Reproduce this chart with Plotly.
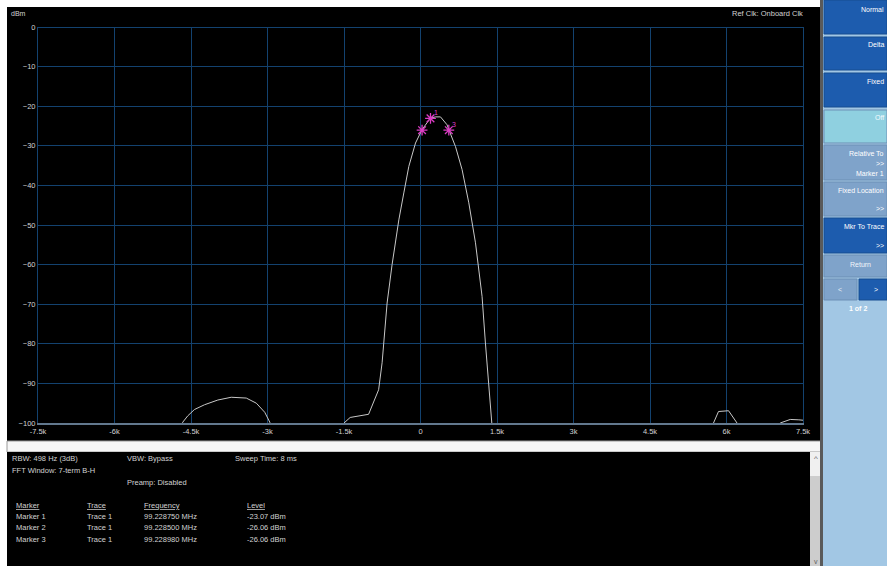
import plotly.graph_objects as go

# ---------------- data ----------------
freq_hz = [-7500, -4750, -4662, -4564, -4433, -4236, -3974, -3711, -3416, -3219, -3054, -2955,
           -2880, -1580, -1500, -1379, -1018, -821, -753, -655, -557, -425, -327, -229, -98,
           31, 196, 294, 392, 521, 555, 686, 815, 947, 1078, 1207, 1273, 1338, 1398, 1470,
           5680, 5745, 5843, 6040, 6206, 6280, 6990, 7053, 7250, 7419, 7500]
level_dbm = [-104, -104, -99.8, -98.2, -96.6, -95.4, -94.2, -93.5, -93.7, -95.0, -97.3, -99.8,
             -104, -104, -100, -98.6, -97.8, -91.6, -84.8, -69.7, -60.0, -48.7, -41.9, -35.2, -29.3,
             -25.9, -23.0, -22.7, -22.7, -24.7, -25.9, -30.2, -36.0, -44.4, -54.5, -68.0, -79.8, -90.8, -100, -104,
             -104, -100, -97.1, -96.9, -100, -104, -104, -100, -99.1, -99.2, -99.3]

x_tick_vals = [-7500, -6000, -4500, -3000, -1500, 0, 1500, 3000, 4500, 6000, 7500]
x_tick_text = ["-7.5k", "-6k", "-4.5k", "-3k", "-1.5k", "0", "1.5k", "3k", "4.5k", "6k", "7.5k"]
y_tick_vals = [0, -10, -20, -30, -40, -50, -60, -70, -80, -90, -100]

marker_names = ["Marker 1", "Marker 2", "Marker 3"]
marker_labels = ["1", "", "3"]
marker_offset_hz = [196, 31, 555]
marker_level_dbm = [-23.07, -26.06, -26.06]
marker_trace = ["Trace 1", "Trace 1", "Trace 1"]
marker_freq_text = ["99.228750 MHz", "99.228500 MHz", "99.228980 MHz"]
marker_level_text = ["-23.07 dBm", "-26.06 dBm", "-26.06 dBm"]

# ---------------- layout helpers ----------------
W, H = 887, 566
ML, MR, MT, MB = 38, 84, 27, 143
PW = W - ML - MR
PH = H - MT - MB


def X(px):
    return (px - ML) / PW


def Y(py):
    return (H - MB - py) / PH


FONT = "Liberation Sans, Arial, sans-serif"
TXT = "#d2d2d2"
GRID = "#13426f"
MAG = "#dc3cc4"

fig = go.Figure()

fig.add_trace(go.Scatter(
    x=freq_hz, y=level_dbm, mode="lines",
    line=dict(color="#c8c8c8", width=1), hoverinfo="skip", showlegend=False))

fig.add_trace(go.Scatter(
    x=marker_offset_hz, y=marker_level_dbm, mode="markers",
    marker=dict(symbol="asterisk-open", size=9, color=MAG,
                line=dict(color=MAG, width=1.3)),
    hoverinfo="skip", showlegend=False))

shapes = []
annotations = []

for fx, lv, lab in zip(marker_offset_hz, marker_level_dbm, marker_labels):
    if lab:
        annotations.append(dict(x=fx, y=lv, xref="x", yref="y", text=lab, showarrow=False,
                                xshift=5, yshift=6,
                                font=dict(family=FONT, size=7, color=MAG)))


def rect(px0, py0, px1, py1, fill, line=None, lw=0, layer="below"):
    shapes.append(dict(type="rect", xref="paper", yref="paper",
                       x0=X(px0), x1=X(px1), y0=Y(py1), y1=Y(py0),
                       fillcolor=fill, layer=layer,
                       line=dict(color=line or fill, width=lw)))


def text(px, py, s, size=7.5, color=TXT, anchor="left"):
    annotations.append(dict(xref="paper", yref="paper", x=X(px), y=Y(py),
                            text=s, showarrow=False, xanchor=anchor, yanchor="middle",
                            font=dict(family=FONT, size=size, color=color)))


# main black screen
rect(7, 7, 822, 441, "#000000")
# separator bar
rect(7, 441, 821, 452, "#f7f7f7", "#9a9a9a", 1, "above")
# info panel
rect(7, 452, 810, 566, "#000000", layer="above")
# scrollbar
rect(810, 452, 821, 566, "#cdcdcd", layer="above")
rect(810, 452, 821, 476, "#f0f0f0", layer="above")
text(815.5, 459, "^", 8, "#606060", "center")
text(815.5, 561, "v", 7, "#606060", "center")

# right soft-key panel
rect(820, 0, 887, 566, "#a2c7e4", layer="above")
rect(820, 0, 823, 566, "#5a5a5a", layer="above")
RX = 886
buttons = [
    (0, 34, "#1d5cae", [("Normal", 9)]),
    (37, 70, "#1d5cae", [("Delta", 45)]),
    (73, 107, "#1d5cae", [("Fixed", 82)]),
    (110, 143, "#8fd0e0", [("Off", 117)]),
    (145, 180, "#7fa3ca", [("Relative To", 153), (">>", 163), ("Marker 1", 173)]),
    (182, 216, "#7fa3ca", [("Fixed Location", 190), (">>", 209)]),
    (218, 253, "#1d5cae", [("Mkr To Trace", 226), (">>", 245)]),
]
for y0, y1, col, labels in buttons:
    rect(824, y0, 887, y1, col, "#164c90" if col == "#1d5cae" else "#6d8fb5", 1, "above")
    for s, py in labels:
        text(RX, py, s, 7, "#ffffff" if col != "#8fd0e0" else "#f4fbff", "right")
rect(824, 255, 887, 277, "#7fa3ca", "#6d8fb5", 1, "above")
text(860, 264, "Return", 7, "#f2f6fb", "center")
rect(824, 279, 857, 300, "#7fa3ca", "#6d8fb5", 1, "above")
rect(859, 279, 887, 300, "#1d5cae", "#164c90", 1, "above")
text(840, 289, "<", 7, "#e8eef6", "center")
text(876, 289, ">", 7, "#ffffff", "center")
text(858, 308, "<b>1 of 2</b>", 7, "#ffffff", "center")

# screen annotations
text(9, 13, "dBm", 7, TXT)
text(805, 13, "Ref Clk: Onboard Clk", 7.5, TXT, "right")

# info panel texts
text(10, 458, "RBW: 498 Hz (3dB)")
text(125, 458, "VBW: Bypass")
text(233, 458, "Sweep Time: 8 ms")
text(10, 471, "FFT Window: 7-term B-H")
text(125, 482, "Preamp: Disabled")
text(14, 505, "<u>Marker</u>")
text(85, 505, "<u>Trace</u>")
text(142, 505, "<u>Frequency</u>")
text(245, 505, "<u>Level</u>")
for i in range(len(marker_names)):
    py = 516 + i * 11.5
    text(14, py, marker_names[i])
    text(85, py, marker_trace[i])
    text(142, py, marker_freq_text[i])
    text(245, py, marker_level_text[i])

fig.update_layout(
    width=W, height=H,
    margin=dict(l=ML, r=MR, t=MT, b=MB, pad=0),
    paper_bgcolor="#ffffff", plot_bgcolor="#000000",
    shapes=shapes, annotations=annotations,
    showlegend=False,
    xaxis=dict(range=[-7500, 7500], tickmode="array", tickvals=x_tick_vals, ticktext=x_tick_text,
               showgrid=True, gridcolor=GRID, gridwidth=1, zeroline=True, zerolinecolor=GRID,
               zerolinewidth=1, showline=True, linecolor="#62788e", linewidth=2, mirror=False,
               ticks="", tickfont=dict(family=FONT, size=7.5, color=TXT), fixedrange=True),
    yaxis=dict(range=[-100, 0], tickmode="array", tickvals=y_tick_vals,
               showgrid=True, gridcolor=GRID, gridwidth=1, zeroline=True, zerolinecolor=GRID,
               zerolinewidth=1, showline=True, linecolor=GRID, linewidth=1, mirror=True,
               ticks="", tickfont=dict(family=FONT, size=7.5, color=TXT), fixedrange=True),
)

fig.write_html("out.html", config={"displayModeBar": False},
               post_script="document.body.style.margin='0';")
